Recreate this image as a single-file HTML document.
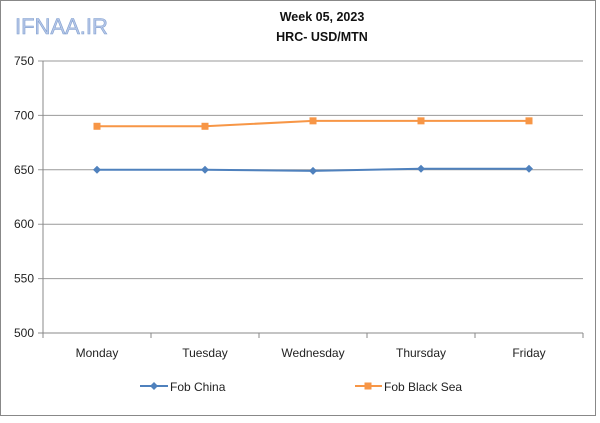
<!DOCTYPE html>
<html><head><meta charset="utf-8"><style>
body{margin:0;background:#fff;font-family:"Liberation Sans",sans-serif}
</style></head><body>
<svg width="600" height="418" xmlns="http://www.w3.org/2000/svg" font-family="Liberation Sans, sans-serif">
<rect x="0.5" y="0.5" width="595" height="415" fill="#fff" stroke="#888"/>
<text x="15" y="34" font-size="22" fill="#b8c8e8" stroke="#7f9fd0" stroke-width="0.6">IFNAA.IR</text>
<text x="322" y="21" font-size="12.5" font-weight="bold" text-anchor="middle" fill="#111">Week 05, 2023</text>
<text x="322" y="41" font-size="12.5" font-weight="bold" text-anchor="middle" fill="#111">HRC- USD/MTN</text>
<g id="grid"></g><g id="axes"></g><g id="series"></g>
<g>
<line x1="140" y1="386" x2="168" y2="386" stroke="#4f81bd" stroke-width="2"/>
<path d="M154 382 L158 386 L154 390 L150 386Z" fill="#4f81bd"/>
<text x="170" y="391" font-size="12" fill="#222">Fob China</text>
<line x1="355" y1="386" x2="382" y2="386" stroke="#f79646" stroke-width="2"/>
<rect x="364.5" y="382.5" width="7" height="7" fill="#f79646"/>
<text x="384" y="391" font-size="12" fill="#222">Fob Black Sea</text>
</g>
</svg>
<script>
const categories=["Monday","Tuesday","Wednesday","Thursday","Friday"];
const fobChina=[650,650,649,651,651];
const fobBlackSea=[690,690,695,695,695];
const yTicks=[500,550,600,650,700,750];
const NS="http://www.w3.org/2000/svg";
const L=43,R=583,T=61,B=333,yMin=500,yMax=750;
const bw=(R-L)/categories.length;
const x=i=>L+bw*(i+0.5);
const y=v=>B-(v-yMin)/(yMax-yMin)*(B-T);
function mk(t,a,p){const e=document.createElementNS(NS,t);for(const k in a)e.setAttribute(k,a[k]);p.appendChild(e);return e;}
const grid=document.getElementById('grid'),axes=document.getElementById('axes'),ser=document.getElementById('series');
yTicks.forEach(v=>{
 const g=mk('line',{x1:L-5,x2:R,y1:y(v),y2:y(v),stroke:v===yMin?'#888':'#999','stroke-width':1},grid);
 
 
 const t=mk('text',{x:L-9,y:y(v)+4,'font-size':12,'text-anchor':'end',fill:'#222'},axes);t.textContent=v;
 
 
});
const ya=mk('line',{x1:L,x2:L,y1:T,y2:B,stroke:'#888'},axes);


for(let i=0;i<=categories.length;i++){mk('line',{x1:L+bw*i,x2:L+bw*i,y1:B,y2:B+5,stroke:'#888'},axes);}
categories.forEach((c,i)=>{const t=mk('text',{x:x(i),y:B+24,'font-size':12,'text-anchor':'middle',fill:'#222'},axes);t.textContent=c;
 
 });
function line(vals,col,name,sq){
 const p=mk('polyline',{points:vals.map((v,i)=>x(i)+','+y(v)).join(' '),fill:'none',stroke:col,'stroke-width':2},ser);
 
 
 vals.forEach((v,i)=>{let m;
  if(sq)m=mk('rect',{x:x(i)-3.5,y:y(v)-3.5,width:7,height:7,fill:col},ser);
  else m=mk('path',{d:`M${x(i)} ${y(v)-4}L${x(i)+4} ${y(v)}L${x(i)} ${y(v)+4}L${x(i)-4} ${y(v)}Z`,fill:col},ser);
  
  });
}
line(fobChina,'#4f81bd','fob-china',false);
line(fobBlackSea,'#f79646','fob-black-sea',true);
</script>
</body></html>
